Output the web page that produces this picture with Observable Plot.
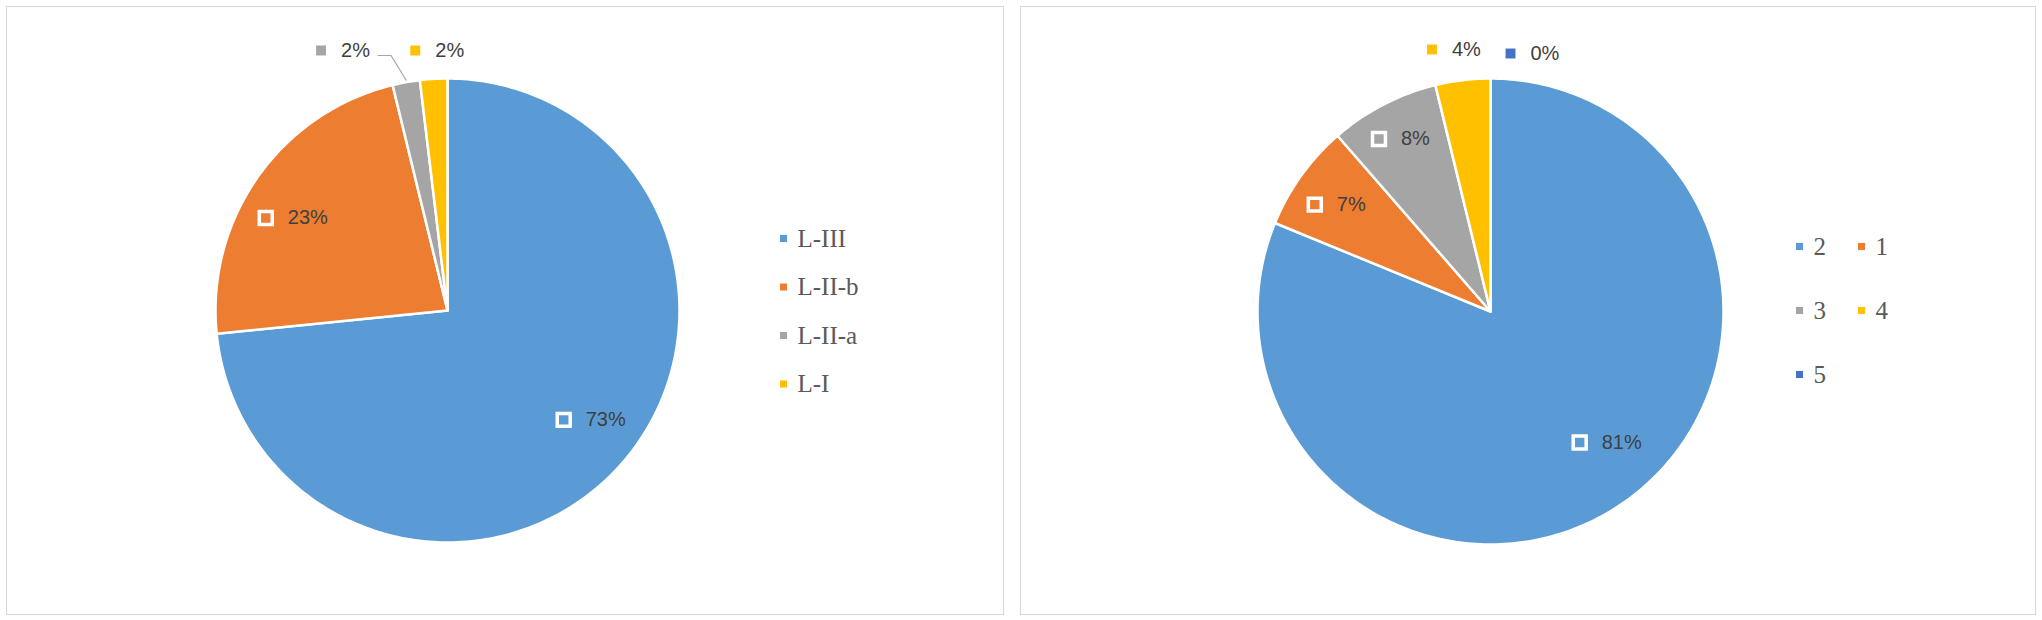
<!DOCTYPE html>
<html><head><meta charset="utf-8">
<script src="https://cdn.jsdelivr.net/npm/d3@7"></script>
<script src="https://cdn.jsdelivr.net/npm/@observablehq/plot@0.6"></script>
<style>
body{margin:0;background:#fff;}
#page{position:relative;width:2042px;height:620px;overflow:hidden;background:#fff;}
.chart{position:absolute;}
.frame{position:absolute;box-sizing:border-box;border:1.5px solid #d6d6d6;pointer-events:none;}
</style></head><body><div id="page"></div>
<script>
// ---- data ----
const leftCategories = ["L-III", "L-II-b", "L-II-a", "L-I"];
const leftValues = [73.4, 22.8, 1.9, 1.9];
const leftColors = ["#5B9BD5", "#ED7D31", "#A5A5A5", "#FFC000"];

const rightCategories = ["2", "1", "3", "4", "5"];
const rightValues = [81.2, 7.4, 7.6, 3.8, 0];
const rightColors = ["#5B9BD5", "#ED7D31", "#A5A5A5", "#FFC000", "#4472C4"];

// ---- layout ----
const leftLayout = {
  box: {left: 6, top: 6, width: 998, height: 609},
  pie: {cx: 447, cy: 310, r: 232},
  legend: {x: [783], y0: 238, dy: 48.5, cols: 1},
  nudges: {"L-III": [9, -12], "L-II-b": [-7, 12], "L-II-a": [-54, 0], "L-I": [10, 0]},
  leaders: ["L-II-a"]
};
const rightLayout = {
  box: {left: 1020, top: 6, width: 1016, height: 609},
  pie: {cx: 1490, cy: 311, r: 233},
  legend: {x: [1799, 1861], y0: 246, dy: 64, cols: 2},
  nudges: {"2": [15, -20], "1": [-1, -1], "3": [-1, -11], "4": [-1, -1], "5": [47, 3]},
  leaders: []
};

const labelFont = "'Liberation Sans', Arial, sans-serif";
const legendFont = "'Liberation Serif', 'Times New Roman', serif";

function drawPanel(cats, vals, colors, L) {
  const {box, pie, legend, nudges, leaders} = L;
  const total = d3.sum(vals);
  const slices = [], labels = [], lead = [];
  let acc = 0;
  cats.forEach((c, i) => {
    const a0 = acc / total * 2 * Math.PI;
    acc += vals[i];
    const a1 = acc / total * 2 * Math.PI;
    const mid = (a0 + a1) / 2;
    const share = vals[i] / total;
    if (a1 > a0) {
      const n = Math.max(2, Math.ceil((a1 - a0) / (Math.PI / 180)));
      slices.push({cat: c, x: pie.cx, y: pie.cy});
      for (let k = 0; k <= n; k++) {
        const a = a0 + (a1 - a0) * k / n;
        slices.push({cat: c, x: pie.cx + pie.r * Math.sin(a), y: pie.cy - pie.r * Math.cos(a)});
      }
    }
    const inside = share >= 0.05;
    const nd = nudges[c] || [0, 0];
    let x, y;
    if (inside) {
      x = pie.cx + 0.78 * pie.r * Math.sin(mid) - 27;
      y = pie.cy - 0.78 * pie.r * Math.cos(mid);
    } else {
      x = pie.cx + 1.1 * pie.r * Math.sin(mid) - 27;
      y = pie.cy - pie.r - 28;
    }
    x += nd[0]; y += nd[1];
    labels.push({cat: c, x, y, inside, text: Math.round(share * 100) + "%"});
    if (leaders.includes(c)) {
      const ex = x + 57;
      lead.push({cat: c, x: ex, y: y + 5});
      lead.push({cat: c, x: ex + 13, y: y + 5});
      lead.push({cat: c, x: pie.cx + pie.r * Math.sin(mid), y: pie.cy - pie.r * Math.cos(mid) - 2});
    }
  });
  const legendRows = cats.map((c, i) => ({
    cat: c,
    x: legend.x[i % legend.cols],
    y: legend.y0 + Math.floor(i / legend.cols) * legend.dy
  }));

  const plot = Plot.plot({
    width: box.width, height: box.height, margin: 0,
    x: {domain: [box.left, box.left + box.width], range: [0, box.width], axis: null},
    y: {domain: [box.top, box.top + box.height], range: [0, box.height], axis: null},
    color: {domain: cats, range: colors},
    style: {background: "transparent", overflow: "visible"},
    marks: [
      Plot.line(slices, {x: "x", y: "y", z: "cat", fill: "cat", stroke: "white", strokeWidth: 2.5,
        curve: "linear-closed", strokeLinejoin: "round"}),
      Plot.line(lead, {x: "x", y: "y", z: "cat", stroke: "#a6a6a6", strokeWidth: 1.2}),
      Plot.dot(labels.filter(d => d.inside), {x: "x", y: "y", fill: "cat", stroke: "white",
        strokeWidth: 3.5, symbol: "square", r: 7.3}),
      Plot.dot(labels.filter(d => !d.inside), {x: "x", y: "y", fill: "cat", symbol: "square", r: 5.6}),
      Plot.text(labels, {x: d => d.x + (d.inside ? 22 : 20), y: "y", text: "text", textAnchor: "start",
        fontSize: 20, fill: "#404040", fontFamily: labelFont}),
      Plot.dot(legendRows, {x: "x", y: "y", fill: "cat", symbol: "square", r: 4}),
      Plot.text(legendRows, {x: d => d.x + 14, y: "y", text: "cat", textAnchor: "start",
        fontSize: 25, fill: "#595959", fontFamily: legendFont})
    ]
  });
  plot.classList.add("chart");
  plot.style.left = box.left + "px";
  plot.style.top = box.top + "px";
  const page = document.getElementById("page");
  page.appendChild(plot);
  const fr = document.createElement("div");
  fr.className = "frame";
  Object.assign(fr.style, {left: box.left + "px", top: box.top + "px", width: box.width + "px", height: box.height + "px"});
  page.appendChild(fr);
}

drawPanel(leftCategories, leftValues, leftColors, leftLayout);
drawPanel(rightCategories, rightValues, rightColors, rightLayout);
</script>
</body></html>
